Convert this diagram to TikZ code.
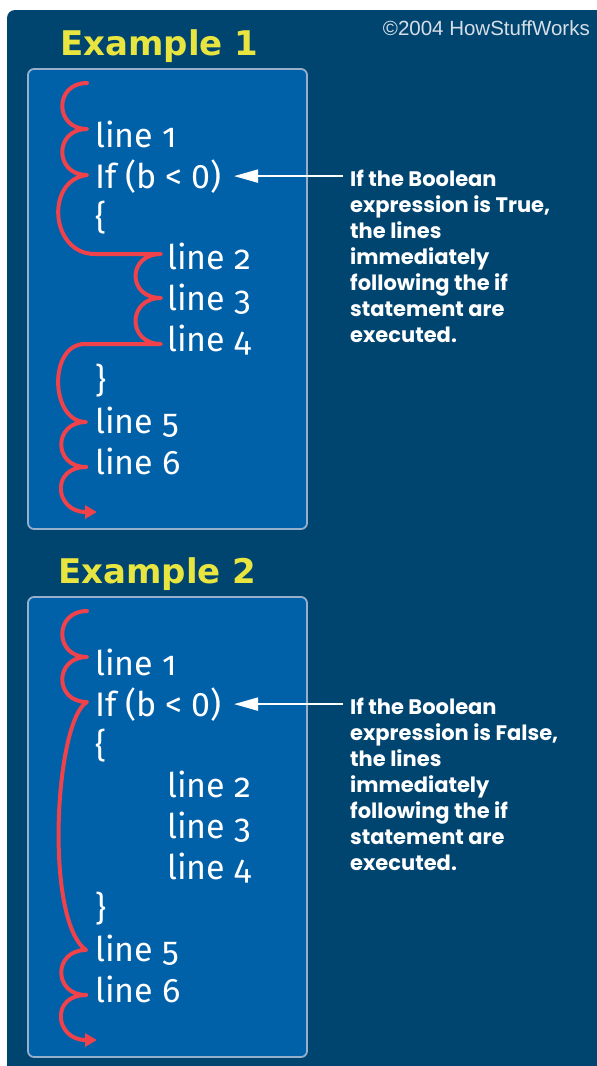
\documentclass[tikz,border=0pt]{standalone}
\usepackage{fontspec}
\setmainfont{Fira Sans}[Numbers=OldStyle]
\newfontfamily\notefont{Poppins}
\newfontfamily\titlefont{DejaVu Sans}
\newfontfamily\copyfont{Liberation Sans}
\usetikzlibrary{arrows.meta}
\definecolor{navy}{RGB}{0,69,112}
\definecolor{boxblue}{RGB}{0,96,168}
\definecolor{boxline}{RGB}{150,175,205}
\definecolor{flowred}{RGB}{240,66,74}
\definecolor{titleyellow}{RGB}{232,228,64}
\definecolor{copygray}{RGB}{215,222,230}
\newcommand{\lz}{{\addfontfeature{Numbers=Lining}0}}
\begin{document}
\begin{tikzpicture}[x=1pt,y=-1pt,
  codebox/.style={draw=boxline, line width=1.8pt, fill=boxblue, rounded corners=6pt,
    minimum width=279pt, minimum height=460pt, inner sep=0pt},
  code/.style={anchor=base west, inner sep=0pt, text=white, font=\fontsize{34}{40}\selectfont},
  title/.style={anchor=base west, inner sep=0pt, text=titleyellow,
    font=\titlefont\bfseries\fontsize{34}{40}\selectfont},
  note/.style={anchor=north west, inner sep=0pt, align=left, text=white,
    font=\notefont\bfseries\fontsize{21}{26}\selectfont},
  flow/.style={draw=flowred, line width=4pt, line cap=round, line join=round},
  flowtip/.style={flow, -{Triangle[length=12pt,width=13pt]}},
  pointer/.style={draw=white, line width=2pt, -{Triangle[length=24pt,width=13pt]}},
]
\path[use as bounding box, fill=white] (0,0) rectangle (597,1066);
\fill[navy] (597,1066) -- (7,1066) [rounded corners=8pt] -- (7,10) [sharp corners] -- (597,10) -- cycle;

\node[anchor=base east, inner sep=0pt, text=copygray, font=\copyfont\fontsize{20.5}{22}\selectfont]
  (copy) at (590,35) {©2004 HowStuffWorks};

% ---------- Example 1 ----------
\node[title] (t1) at (60,55) {Example 1};
\node[codebox] (box1) at (167.5,299) {};
\node[code] (a1) at (95,147) {line 1};
\node[code] (aif) at (95,188) {If (b < \lz)};
\node[code] (aob) at (95,229) {\{};
\node[code] (a2) at (167,269.5) {line 2};
\node[code] (a3) at (167,310.5) {line 3};
\node[code] (a4) at (167,351.5) {line 4};
\node[code] (acb) at (95,392) {\}};
\node[code] (a5) at (95,433) {line 5};
\node[code] (a6) at (95,474) {line 6};

\coordinate (as) at (87,83);
\coordinate (ac1) at (87,129);
\coordinate (ac2) at (87,175);
\coordinate (ah1) at (95,254);
\coordinate (ac3) at (161,254);
\coordinate (ac4) at (161,298);
\coordinate (ac5) at (161,344);
\coordinate (ah2) at (85,344);
\coordinate (ac6) at (86,422);
\coordinate (ac7) at (86,467);
\coordinate (at) at (97,512);
\draw[flow] (as) .. controls +(-33,0) and +(-33,0) .. (ac1)
  .. controls +(-33,0) and +(-33,0) .. (ac2)
  .. controls (45,180) and (50,254) .. (ah1) -- (ac3)
  .. controls +(-34,0) and +(-34,0) .. (ac4)
  .. controls +(-34,0) and +(-34,0) .. (ac5) -- (ah2)
  .. controls (48,344) and (50,422) .. (ac6)
  .. controls +(-33,0) and +(-33,0) .. (ac7);
\draw[flowtip] (ac7) .. controls (50,467) and (55,512) .. (at);

\node[note] (n1) at (350,170) {If the Boolean\\expression is True,\\the lines\\immediately\\following the if\\statement are\\executed.};
\draw[pointer] ([xshift=-7pt]n1.west |- aif.center) -- ([xshift=12pt]aif.east);

% ---------- Example 2 ----------
\node[title] (t2) at (58,583) {Example 2};
\node[codebox] (box2) at (167.5,827) {};
\node[code] (b1) at (95,675) {line 1};
\node[code] (bif) at (95,716) {If (b < \lz)};
\node[code] (bob) at (95,757) {\{};
\node[code] (b2) at (167,797.5) {line 2};
\node[code] (b3) at (167,838.5) {line 3};
\node[code] (b4) at (167,879.5) {line 4};
\node[code] (bcb) at (95,920) {\}};
\node[code] (b5) at (95,961) {line 5};
\node[code] (b6) at (95,1002) {line 6};

\coordinate (bs) at (87,611);
\coordinate (bc1) at (87,657);
\coordinate (bc2) at (87,702);
\coordinate (bc6) at (86,950);
\coordinate (bc7) at (86,995);
\coordinate (bt) at (97,1040);
\draw[flow] (bs) .. controls +(-33,0) and +(-33,0) .. (bc1)
  .. controls +(-33,0) and +(-33,0) .. (bc2)
  .. controls (55,720) and (44,920) .. (bc6)
  .. controls +(-33,0) and +(-33,0) .. (bc7);
\draw[flowtip] (bc7) .. controls (50,995) and (55,1040) .. (bt);

\node[note] (n2) at (350,698) {If the Boolean\\expression is False,\\the lines\\immediately\\following the if\\statement are\\executed.};
\draw[pointer] ([xshift=-7pt]n2.west |- bif.center) -- ([xshift=12pt]bif.east);
\end{tikzpicture}
\end{document}
